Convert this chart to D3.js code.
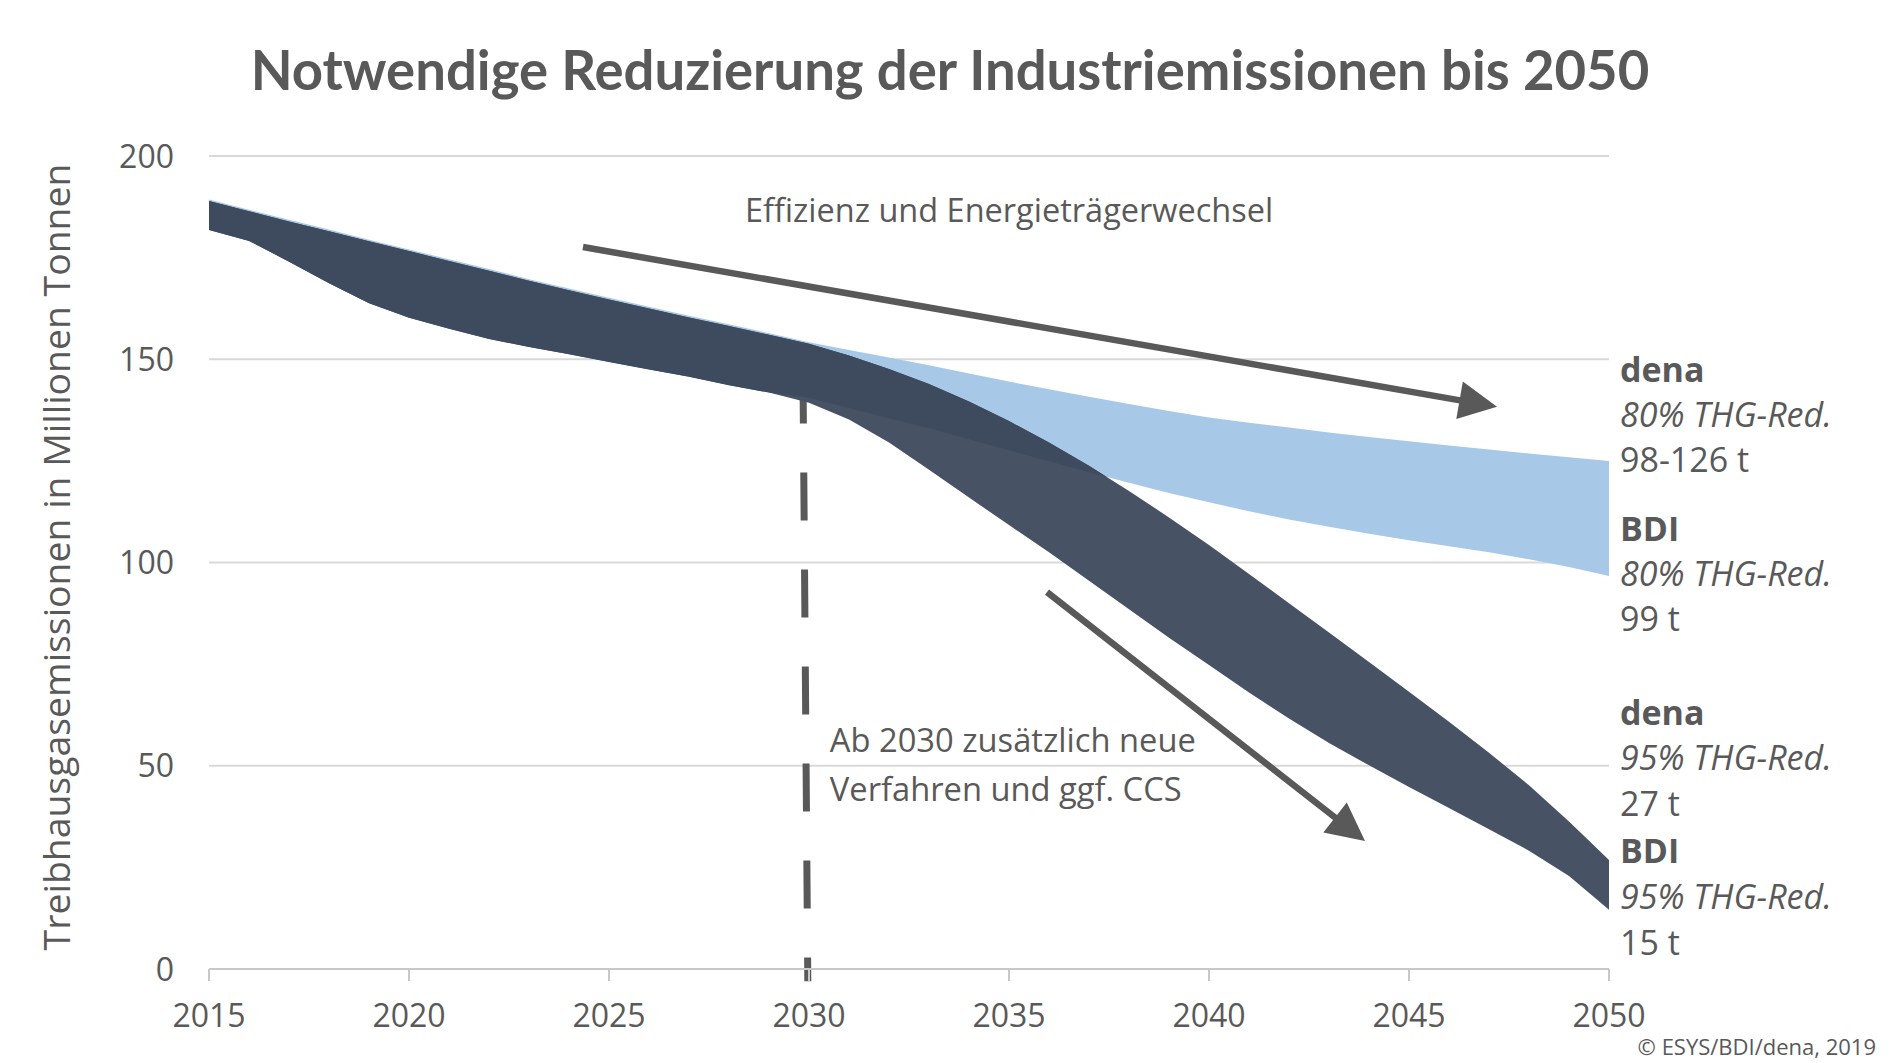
<!DOCTYPE html>
<html>
<head>
<meta charset="utf-8">
<script src="https://cdn.jsdelivr.net/npm/d3@7"></script>
<style>
  html, body { margin: 0; padding: 0; background: #fff; }
  text { font-family: "Open Sans", sans-serif; fill: #595959; }
</style>
</head>
<body>
<svg id="chart" width="1890" height="1063"></svg>
<script>
// years on the x axis
const years = [2015, 2016, 2017, 2018, 2019, 2020, 2021, 2022, 2023, 2024, 2025, 2026,
  2027, 2028, 2029, 2030, 2031, 2032, 2033, 2034, 2035, 2036, 2037, 2038,
  2039, 2040, 2041, 2042, 2043, 2044, 2045, 2046, 2047, 2048, 2049, 2050];

// 80% path (light band), Mio t
const red80Upper = [189.3, 186.8, 184.3, 181.9, 179.4, 177.0, 174.6, 172.2, 169.7, 167.4,
  165.1, 162.9, 160.7, 158.6, 156.4, 154.2, 152.3, 150.4, 148.5, 146.5, 144.5, 142.6,
  140.8, 139.0, 137.3, 135.7, 134.4, 133.2, 132.0, 130.9, 129.8, 128.8, 127.8, 126.8,
  125.9, 125.0];
const red80Lower = [181.8, 179.1, 174.0, 168.7, 163.8, 160.2, 157.5, 155.0, 153.0, 151.2,
  149.3, 147.5, 145.7, 143.6, 141.8, 140.5, 138.0, 135.5, 133.0, 130.3, 127.6, 124.9,
  122.2, 119.6, 117.1, 114.8, 112.6, 110.6, 108.8, 107.1, 105.5, 104.0, 102.5, 100.8,
  98.9, 96.7];

// 95% path (dark band), Mio t
const red95Upper = [188.9, 186.4, 183.9, 181.5, 179.0, 176.6, 174.2, 171.8, 169.3, 167.0,
  164.7, 162.5, 160.3, 158.2, 156.0, 153.8, 150.9, 147.6, 143.9, 139.6, 134.8, 129.5,
  123.8, 117.6, 111.1, 104.3, 97.2, 90.0, 82.8, 75.5, 68.2, 60.8, 53.2, 45.2, 36.3, 26.8];
const red95Lower = [181.8, 179.1, 174.0, 168.7, 163.8, 160.2, 157.5, 155.0, 153.0, 151.2,
  149.3, 147.5, 145.7, 143.6, 141.8, 139.3, 135.2, 129.5, 122.8, 116.0, 109.2, 102.5,
  95.5, 88.5, 81.5, 74.8, 68.0, 61.6, 55.6, 50.1, 44.8, 39.6, 34.4, 29.1, 22.9, 14.6];

const yTicks = [0, 50, 100, 150, 200];
const xTicks = [2015, 2020, 2025, 2030, 2035, 2040, 2045, 2050];

// labels at the right end
const endLabels = [
  { text: "dena", style: "bold", base: 382 },
  { text: "80% THG-Red.", style: "italic", base: 427 },
  { text: "98-126 t", style: "normal", base: 472 },
  { text: "BDI", style: "bold", base: 541 },
  { text: "80% THG-Red.", style: "italic", base: 586 },
  { text: "99 t", style: "normal", base: 631 },
  { text: "dena", style: "bold", base: 725 },
  { text: "95% THG-Red.", style: "italic", base: 770 },
  { text: "27 t", style: "normal", base: 816 },
  { text: "BDI", style: "bold", base: 863 },
  { text: "95% THG-Red.", style: "italic", base: 909 },
  { text: "15 t", style: "normal", base: 955 }
];

const svg = d3.select("#chart");

const x = d3.scaleLinear().domain([2015, 2050]).range([209, 1609]);
const y = d3.scaleLinear().domain([0, 200]).range([969, 156]);

const grey = "#595959";

// title, fitted to the width of the original
const title = svg.append("text")
  .attr("x", 950).attr("y", 90)
  .attr("text-anchor", "middle")
  .style("font-family", "Lato, sans-serif")
  .style("font-weight", 700)
  .style("font-size", "50px")
  .text("Notwendige Reduzierung der Industriemissionen bis 2050");
const tw = title.node().getComputedTextLength();
title.style("font-size", (50 * 1399 / tw) + "px");

// gridlines
svg.append("g").selectAll("line")
  .data(yTicks.filter(d => d > 0))
  .enter().append("line")
  .attr("x1", x(2015)).attr("x2", x(2050))
  .attr("y1", d => y(d)).attr("y2", d => y(d))
  .attr("stroke", "#d9d9d9").attr("stroke-width", 2);

// y tick labels
svg.append("g").selectAll("text")
  .data(yTicks)
  .enter().append("text")
  .attr("x", 174).attr("y", d => y(d))
  .attr("dy", "0.36em")
  .attr("text-anchor", "end")
  .style("font-size", "32px")
  .text(d => d);

// y axis title
const ytitle = svg.append("text")
  .attr("transform", "translate(70,557) rotate(-90)")
  .attr("text-anchor", "middle")
  .style("font-size", "34px")
  .text("Treibhausgasemissionen in Millionen Tonnen");
const yl = ytitle.node().getComputedTextLength();
ytitle.style("font-size", (34 * 787 / yl) + "px");

// dashed marker at 2030 (drawn under the bands)
svg.append("line")
  .attr("x1", x(2029.85)).attr("y1", y(146))
  .attr("x2", x(2029.97)).attr("y2", y(-3))
  .attr("stroke", grey).attr("stroke-width", 7)
  .attr("stroke-dasharray", "48 49");

// bands
const rows80 = years.map((yr, i) => ({ yr, hi: red80Upper[i], lo: red80Lower[i] }));
const rows95 = years.map((yr, i) => ({ yr, hi: red95Upper[i], lo: red95Lower[i] }));
const area = d3.area().x(d => x(d.yr)).y0(d => y(d.lo)).y1(d => y(d.hi));

svg.append("path").attr("d", area(rows80)).attr("fill", "#a8c8e8");
svg.append("path").attr("d", area(rows95)).attr("fill", "#475364");

svg.append("clipPath").attr("id", "clip95")
  .append("path").attr("d", area(rows95));
svg.append("path").attr("d", area(rows80))
  .attr("fill", "#3e4b5f")
  .attr("clip-path", "url(#clip95)");

// x axis
svg.append("line")
  .attr("x1", x(2015)).attr("x2", x(2050))
  .attr("y1", y(0)).attr("y2", y(0))
  .attr("stroke", "#c8c8c8").attr("stroke-width", 2);
svg.append("g").selectAll("line")
  .data(xTicks)
  .enter().append("line")
  .attr("x1", d => x(d)).attr("x2", d => x(d))
  .attr("y1", y(0)).attr("y2", y(0) + 12)
  .attr("stroke", "#c8c8c8").attr("stroke-width", 2);
svg.append("g").selectAll("text")
  .data(xTicks)
  .enter().append("text")
  .attr("x", d => x(d)).attr("y", 1027)
  .attr("text-anchor", "middle")
  .style("font-size", "32px")
  .text(d => d);

// arrows
function arrow(yr1, v1, yr2, v2) {
  const x1 = x(yr1), y1 = y(v1), x2 = x(yr2), y2 = y(v2);
  const a = Math.atan2(y2 - y1, x2 - x1);
  const len = 38, hw = 19;
  const bx = x2 - len * Math.cos(a), by = y2 - len * Math.sin(a);
  svg.append("line")
    .attr("x1", x1).attr("y1", y1).attr("x2", bx + 2 * Math.cos(a)).attr("y2", by + 2 * Math.sin(a))
    .attr("stroke", grey).attr("stroke-width", 6.5);
  const pts = [
    [x2, y2],
    [bx + hw * Math.sin(a), by - hw * Math.cos(a)],
    [bx - hw * Math.sin(a), by + hw * Math.cos(a)]
  ];
  svg.append("polygon").attr("points", pts.map(p => p.join(",")).join(" ")).attr("fill", grey);
}
arrow(2024.35, 177.6, 2047.2, 138.3);
arrow(2035.95, 92.7, 2043.9, 31.5);

// annotations
svg.append("text")
  .attr("x", x(2028.4)).attr("y", y(183.8))
  .style("font-size", "32.5px")
  .text("Effizienz und Energieträgerwechsel");

svg.append("text")
  .attr("x", x(2030.52)).attr("y", y(53.4))
  .style("font-size", "32.7px")
  .text("Ab 2030 zusätzlich neue");
svg.append("text")
  .attr("x", x(2030.52)).attr("y", y(41.3))
  .style("font-size", "32.7px")
  .text("Verfahren und ggf. CCS");

// end labels
svg.append("g").selectAll("text")
  .data(endLabels)
  .enter().append("text")
  .attr("x", x(2050) + 11).attr("y", d => d.base)
  .style("font-size", "34px")
  .style("font-weight", d => d.style === "bold" ? 700 : 400)
  .style("font-style", d => d.style === "italic" ? "italic" : "normal")
  .text(d => d.text);

// source
svg.append("text")
  .attr("x", 1876).attr("y", 1055)
  .attr("text-anchor", "end")
  .style("font-size", "22px")
  .text("© ESYS/BDI/dena, 2019");
</script>
</body>
</html>
